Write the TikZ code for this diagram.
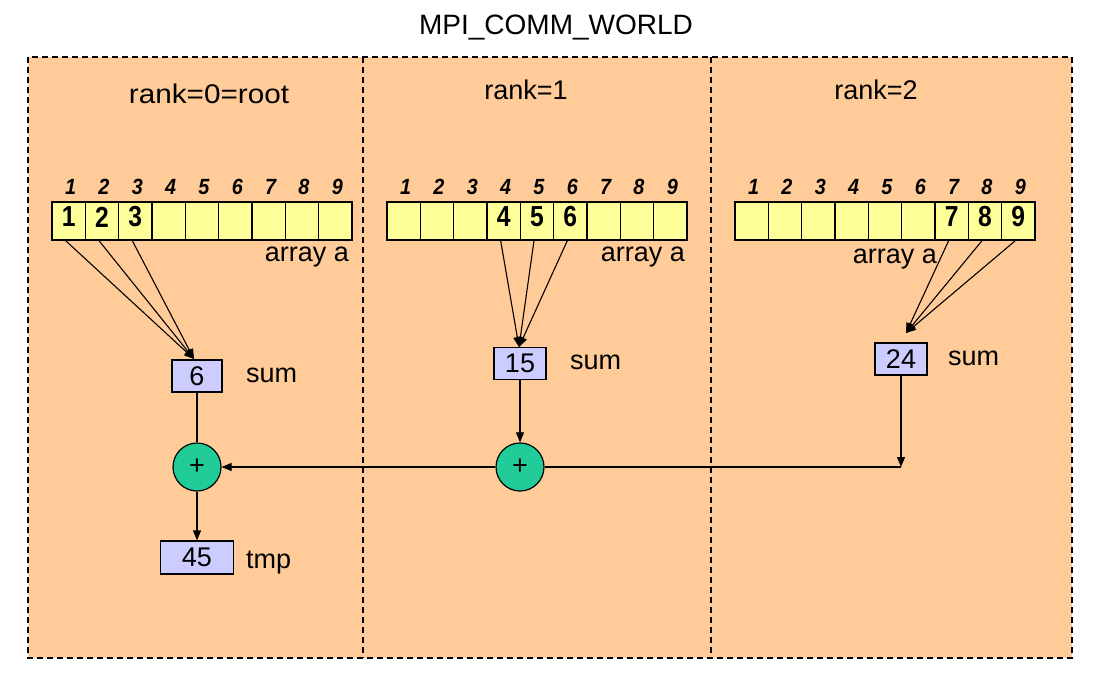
\documentclass[tikz,border=0pt]{standalone}
\usepackage{fontspec}
\setmainfont{Liberation Sans}
\usetikzlibrary{arrows.meta}
\definecolor{bgpeach}{HTML}{FFCC99}
\definecolor{cellyel}{HTML}{FFFF99}
\definecolor{boxlav}{HTML}{CCCCFF}
\definecolor{plusgreen}{HTML}{22CC99}
\tikzset{
  lbl/.style={font=\fontsize{27}{30}\selectfont, inner sep=0pt},
  idx/.style={font=\fontsize{22}{24}\selectfont\bfseries\itshape, inner sep=0pt, xscale=0.9},
  val/.style={font=\fontsize{29}{30}\selectfont\bfseries, inner sep=0pt, xscale=0.85},
  cell/.style={draw, fill=cellyel, line width=1.4pt, minimum width=33.33pt, minimum height=38pt, inner sep=0pt},
  varbox/.style={draw, fill=boxlav, line width=1.2pt, minimum height=32pt, inner sep=0pt, font=\fontsize{27}{30}\selectfont},
  plus/.style={draw, fill=plusgreen, circle, line width=1.2pt, minimum size=48pt, inner sep=0pt, font=\fontsize{27}{30}\selectfont},
  conn/.style={line width=1.1pt},
  arr/.style={line width=1.1pt, -{Triangle[length=10pt,width=8pt]}},
}
\begin{document}
\begin{tikzpicture}[x=1pt,y=-1pt]
\useasboundingbox (0,0) rectangle (1100,682);
% background panel
\fill[bgpeach] (28,57) rectangle (1072,658);
\draw[line width=1.1pt, dash pattern=on 6pt off 4pt] (28,57) rectangle (1072,658);
\draw[line width=1.1pt, dash pattern=on 6pt off 4pt] (363,57) -- (363,658);
\draw[line width=1.1pt, dash pattern=on 6pt off 4pt] (711,57) -- (711,658);
% title and ranks
\node[lbl, font=\fontsize{28}{30}\selectfont] (title) at (556,28) {MPI\_COMM\_WORLD};
\node[lbl, xscale=1.1] (r0) at (209,94) {rank=0=root};
\node[lbl] (r1) at (526,90) {rank=1};
\node[lbl] (r2) at (876,90) {rank=2};
% arrays
\foreach \p/\x in {L/52,M/387,R/735} {
  \foreach \i in {1,...,9} {
    \node[cell] (\p\i) at ({\x+33.33*(\i-0.5)},221) {};
    \node[idx] (\p i\i) at ({\x+33.33*(\i-0.5)+2},187) {\i};
  }
}
% values
\foreach \p/\i in {L/1,L/2,L/3,M/4,M/5,M/6,R/7,R/8,R/9} {
  \node[val] (v\p\i) at ([yshift=4pt]\p\i.center) {\i};
}
\node[lbl, anchor=base east] (aL) at (349,261) {array a};
\node[lbl, anchor=base east] (aM) at (685,261) {array a};
\node[lbl, anchor=base east] (aR) at (937,263) {array a};
% sum boxes
\node[varbox, minimum width=50pt] (s0) at (197,376) {6};
\node[varbox, minimum width=52pt] (s1) at (520,363.5) {15};
\node[varbox, minimum width=52pt] (s2) at (901,359) {24};
\node[lbl, anchor=base west] (sl0) at (246,382) {sum};
\node[lbl, anchor=base west] (sl1) at (570,369) {sum};
\node[lbl, anchor=base west] (sl2) at (948,365) {sum};
% plus circles
\node[plus] (p0) at (197,467) {+};
\node[plus] (p1) at (520,467) {+};
% tmp
\node[varbox, minimum width=73pt, minimum height=33pt] (tmp) at (197,557.5) {45};
\node[lbl, anchor=base west] (tmpl) at (246,568) {tmp};
% convergence points
\coordinate (t0) at (194,359);
\coordinate (t1) at (519,347);
\coordinate (t2) at (906,333);
\coordinate (J) at (901,467);
% connectors from cells
\foreach \c in {L1,L2,L3} { \draw[arr] ([xshift=-3pt]\c.south) -- (t0); }
\foreach \c in {M4,M5,M6} { \draw[arr] ([xshift=-3pt]\c.south) -- (t1); }
\foreach \c in {R7,R8,R9} { \draw[arr] ([xshift=-3pt]\c.south) -- (t2); }
% flow
\draw[conn] (s0.south) -- (p0.north);
\draw[arr] (s1.south) -- (p1.north);
\draw[arr] (s2.south) -- (J);
\draw[conn] (J) -- (p1.east);
\draw[arr] (p1.west) -- (p0.east);
\draw[arr] (p0.south) -- (tmp.north);
\end{tikzpicture}
\end{document}
